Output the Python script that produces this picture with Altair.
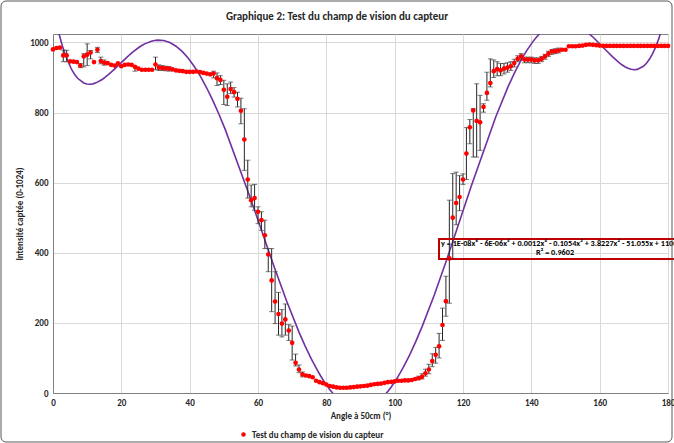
import altair as alt
import pandas as pd

# ---- data ----
angles = [0, 1, 2, 3, 4, 5, 6, 7, 8, 9, 10, 11, 12, 13, 14, 15, 16, 17, 18, 19,
          20, 21, 22, 23, 24, 25, 26, 27, 28, 29, 30, 31, 32, 33, 34, 35, 36, 37, 38, 39,
          40, 41, 42, 43, 44, 45, 46, 47, 48, 49, 50, 51, 52, 53, 54, 55, 56, 57, 58, 59,
          60, 61, 62, 63, 64, 65, 66, 67, 68, 69, 70, 71, 72, 73, 74, 75, 76, 77, 78, 79,
          80, 81, 82, 83, 84, 85, 86, 87, 88, 89, 90, 91, 92, 93, 94, 95, 96, 97, 98, 99,
          100, 101, 102, 103, 104, 105, 106, 107, 108, 109, 110, 111, 112, 113, 114, 115, 116, 117, 118, 119,
          120, 121, 122, 123, 124, 125, 126, 127, 128, 129, 130, 131, 132, 133, 134, 135, 136, 137, 138, 139,
          140, 141, 142, 143, 144, 145, 146, 147, 148, 149, 150, 151, 152, 153, 154, 155, 156, 157, 158, 159,
          160, 161, 162, 163, 164, 165, 166, 167, 168, 169, 170, 171, 172, 173, 174, 175, 176, 177, 178, 179, 180]

intensity = [980, 984, 985, 963, 963, 946, 945, 944, 934, 960, 965, 971, 944, 979, 947, 942, 941, 936, 934, 940,
             932, 936, 937, 936, 930, 925, 922, 922, 922, 922, 937, 928, 927, 926, 925, 923, 920, 919, 918, 916,
             916, 916, 917, 915, 913, 911, 909, 911, 898, 893, 865, 845, 867, 858, 839, 805, 723, 609, 550, 556,
             517, 493, 450, 395, 321, 261, 225, 198, 210, 178, 143, 86, 67, 53, 50, 48, 45, 35, 31, 28,
             24, 20, 18, 16, 15, 15, 15, 16, 17, 18, 19, 20, 21, 23, 25, 26, 27, 29, 31, 32,
             33, 35, 35, 36, 36, 37, 40, 42, 46, 56, 67, 91, 109, 133, 194, 262, 384, 500, 542, 559,
             609, 683, 758, 806, 776, 772, 816, 856, 884, 918, 924, 920, 925, 928, 932, 941, 953, 960, 951, 951,
             951, 949, 949, 953, 960, 968, 974, 975, 977, 979, 979, 989, 989, 989, 990, 991, 993, 994, 993, 992,
             991, 990, 990, 990, 990, 990, 990, 990, 990, 990, 990, 990, 990, 990, 990, 990, 990, 990, 990, 990, 990]

err_angle = [3, 4, 8, 9, 10, 11, 13, 14, 15, 24, 30, 31, 32, 33, 34, 47, 48, 49, 50, 51,
             52, 53, 54, 55, 56, 57, 58, 59, 60, 61, 62, 63, 64, 65, 66, 67, 68, 69, 70, 71,
             72, 73, 107, 108, 109, 110, 111, 112, 113, 114, 115, 116, 117, 118, 119, 120, 121, 122, 123, 124,
             125, 126, 127, 128, 129, 130, 131, 132, 133, 134, 135, 136, 137, 138, 139, 140, 141, 142, 143, 144,
             145, 146, 147, 148]
err_low = [945, 945, 928, 930, 934, 953, 971, 939, 935, 918, 922, 920, 920, 919, 918, 899, 877, 880, 823, 820,
           854, 844, 816, 768, 635, 556, 531, 521, 483, 464, 412, 346, 232, 198, 165, 160, 165, 150, 94, 77,
           58, 46, 38, 40, 48, 55, 75, 85, 100, 150, 219, 256, 384, 480, 520, 595, 609, 711, 673, 673,
           692, 801, 835, 873, 900, 905, 905, 910, 915, 920, 930, 945, 950, 942, 942, 942, 940, 940, 945, 952,
           960, 966, 968, 970]
err_high = [978, 978, 940, 968, 996, 977, 986, 958, 950, 932, 958, 936, 934, 932, 931, 918, 913, 905, 892, 882,
            887, 871, 858, 841, 811, 664, 593, 595, 531, 517, 493, 412, 412, 346, 287, 238, 254, 195, 191, 111,
            80, 60, 48, 55, 68, 82, 112, 130, 170, 242, 333, 550, 626, 630, 620, 625, 757, 780, 811, 882,
            849, 825, 915, 953, 950, 945, 940, 940, 942, 945, 952, 962, 968, 958, 958, 958, 956, 956, 960, 966,
            975, 980, 982, 984]

series_name = "Test du champ de vision du capteur"
title_text = "Graphique 2: Test du champ de vision du capteur"
x_title = "Angle à 50cm (°)"
y_title = "Intensité captée (0-1024)"
eq_line1 = "y = 1E-08x\u2076 - 6E-06x\u2075 + 0.0012x\u2074 - 0.1054x\u00b3 + 3.8227x\u00b2 - 51.055x + 1100.4"
eq_line2 = "R\u00b2 = 0.9602"

FONT = "Carlito, 'Liberation Sans Narrow', Lato, sans-serif"

df = pd.DataFrame({"angle": angles, "intensity": intensity, "series": series_name})
err = pd.DataFrame({"angle": err_angle, "lo": err_low, "hi": err_high})

W, H = 615, 359
xs = alt.Scale(domain=[0, 180], nice=False, zero=False)
ys = alt.Scale(domain=[0, 1024], nice=False, zero=False)

xax = alt.Axis(values=[0, 20, 40, 60, 80, 100, 120, 140, 160, 180], title=x_title, grid=True,
               format="d", labelFlush=False)
yax = alt.Axis(values=[0, 200, 400, 600, 800, 1000], title=y_title, grid=True,
               format="d", labelFlush=False)

base = alt.Chart(df)

trend = base.transform_regression(
    "angle", "intensity", method="poly", order=6, extent=[0, 180]
).mark_line(color="#7030A0", strokeWidth=1.6, clip=True).encode(
    x=alt.X("angle:Q", scale=xs, axis=xax),
    y=alt.Y("intensity:Q", scale=ys, axis=yax),
)

bars = alt.Chart(err).mark_rule(color="#262626", strokeWidth=1).encode(
    x=alt.X("angle:Q", scale=xs),
    y=alt.Y("lo:Q", scale=ys),
    y2="hi:Q",
)
cap_lo = alt.Chart(err).mark_tick(color="#404040", orient="horizontal", size=5, thickness=1).encode(
    x=alt.X("angle:Q", scale=xs),
    y=alt.Y("lo:Q", scale=ys),
)
cap_hi = alt.Chart(err).mark_tick(color="#404040", orient="horizontal", size=5, thickness=1).encode(
    x=alt.X("angle:Q", scale=xs),
    y=alt.Y("hi:Q", scale=ys),
)

points = base.mark_circle(size=22, opacity=1).encode(
    x=alt.X("angle:Q", scale=xs),
    y=alt.Y("intensity:Q", scale=ys),
    color=alt.Color(
        "series:N",
        scale=alt.Scale(range=["#FF0000"]),
        legend=alt.Legend(
            orient="none", legendX=186, legendY=396, direction="horizontal", title=None,
            symbolType="circle", symbolSize=20, labelFont=FONT, labelFontSize=9,
            labelFontWeight="bold", labelColor="#262626",
        ),
    ),
)

one = alt.Data(values=[{"a": 1}])
eq_box = alt.Chart(one).mark_rect(
    fillOpacity=0, stroke="#C00000", strokeWidth=2, clip=False
).encode(x=alt.value(386), x2=alt.value(640), y=alt.value(205), y2=alt.value(225))
eq_t1 = alt.Chart(one).mark_text(
    text=eq_line1, align="left", baseline="middle", font=FONT, fontSize=8.2,
    fontWeight="bold", color="#000000", clip=False
).encode(x=alt.value(388), y=alt.value(210))
eq_t2 = alt.Chart(one).mark_text(
    text=eq_line2, align="center", baseline="middle", font=FONT, fontSize=8.2,
    fontWeight="bold", color="#000000", clip=False
).encode(x=alt.value(502), y=alt.value(219))

title_mark = alt.Chart(one).mark_text(
    text=title_text, align="center", baseline="middle", font=FONT, fontSize=11,
    fontWeight="bold", color="#262626", clip=False
).encode(x=alt.value(284), y=alt.value(-17))

frame = alt.Chart(one).mark_rect(
    fillOpacity=0, stroke="#595959", strokeWidth=1, cornerRadius=5, clip=False
).encode(x=alt.value(-52), x2=alt.value(619), y=alt.value(-33), y2=alt.value(408))

chart = alt.layer(trend, bars, cap_lo, cap_hi, points, eq_box, eq_t1, eq_t2, title_mark, frame).properties(
    width=W, height=H,
    padding={"left": 53, "top": 34, "right": 6, "bottom": 50},
    autosize=alt.AutoSizeParams(type="none"),
).configure_view(stroke="#808080", strokeWidth=1).configure_axis(
    labelFont=FONT, labelFontSize=9, labelFontWeight="bold", labelColor="#262626",
    titleFont=FONT, titleFontSize=9, titleFontWeight="bold", titleColor="#262626",
    gridColor="#D9D9D9", gridWidth=1, ticks=False, domainColor="#808080",
).configure_axisX(labelPadding=5, titlePadding=4).configure_axisY(
    labelPadding=5, titlePadding=5
)

chart.save("out.html", embed_options={"renderer": "svg", "actions": False})
